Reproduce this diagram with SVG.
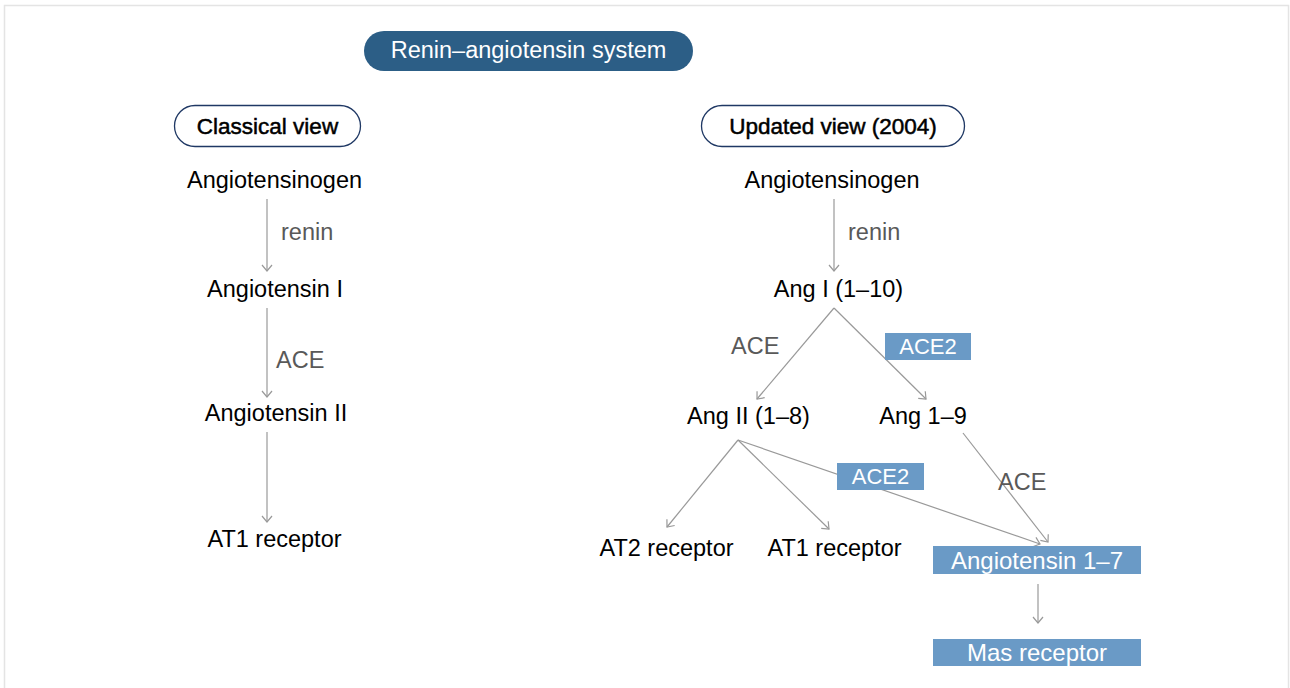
<svg xmlns="http://www.w3.org/2000/svg" width="1290" height="688" viewBox="0 0 1290 688">
<defs>
<marker id="arr" markerUnits="userSpaceOnUse" markerWidth="12" markerHeight="12" viewBox="0 0 12 12" refX="10" refY="6" orient="auto">
<path d="M4,1 L10,6 L4,11" fill="none" stroke="#999" stroke-width="1.2"/>
</marker>
<style>
.t{font-family:"Liberation Sans",Arial,sans-serif;font-size:23.5px;fill:#000;text-anchor:middle}
.g{font-family:"Liberation Sans",Arial,sans-serif;font-size:23.5px;fill:#595959}
.h{font-family:"Liberation Sans",Arial,sans-serif;font-size:22.5px;fill:#000;stroke:#000;stroke-width:0.5;text-anchor:middle}
.w{font-family:"Liberation Sans",Arial,sans-serif;font-size:22px;fill:#fff;text-anchor:middle}
.wl{font-size:24px}
.box{fill:#6a9ac6}
.pill{fill:#fff;stroke:#1f3864;stroke-width:1.3}
.c{stroke:#999;stroke-width:1.2;fill:none;marker-end:url(#arr)}
</style>
</defs>
<rect x="0" y="0" width="1290" height="688" fill="#fff"/>
<rect x="4.5" y="5.5" width="1284" height="690" fill="none" stroke="#e4e4e4" stroke-width="1.5"/>

<g id="title">
<rect x="364" y="31" width="329" height="40" rx="20" fill="#2c5e86"/>
<text x="528.5" y="58" class="w" style="font-size:23.5px">Renin–angiotensin system</text>
</g>
<g id="classical-view">
<rect class="pill" x="174.5" y="105.5" width="186" height="41" rx="20.5"/>
<text x="267.5" y="134" class="h">Classical view</text>
</g>
<g id="updated-view">
<rect class="pill" x="701.5" y="105.5" width="263" height="41" rx="20.5"/>
<text x="833" y="134" class="h">Updated view (2004)</text>
</g>

<g id="connectors">
<line class="c" x1="267" y1="199" x2="267" y2="271"/>
<line class="c" x1="267" y1="308" x2="267" y2="397"/>
<line class="c" x1="267" y1="432" x2="267" y2="522"/>
<line class="c" x1="834" y1="199" x2="834" y2="271"/>
<line class="c" x1="834" y1="308" x2="757" y2="399"/>
<line class="c" x1="834" y1="308" x2="926" y2="399"/>
<line class="c" x1="738" y1="440" x2="667" y2="527"/>
<line class="c" x1="738" y1="440" x2="829" y2="529"/>
<line class="c" x1="738" y1="440" x2="1040" y2="544"/>
<line class="c" x1="963" y1="433" x2="1048" y2="542"/>
<line class="c" x1="1038" y1="584" x2="1038" y2="623"/>
</g>

<g id="l-angiotensinogen"><text x="274.5" y="188" class="t">Angiotensinogen</text></g>
<g id="l-renin"><text x="281" y="240" class="g">renin</text></g>
<g id="l-angiotensin-1"><text x="275" y="297" class="t">Angiotensin I</text></g>
<g id="l-ace"><text x="276" y="368" class="g">ACE</text></g>
<g id="l-angiotensin-2"><text x="276" y="421" class="t">Angiotensin II</text></g>
<g id="l-at1"><text x="274.5" y="547" class="t">AT1 receptor</text></g>

<g id="r-angiotensinogen"><text x="832" y="188" class="t">Angiotensinogen</text></g>
<g id="r-renin"><text x="848" y="240" class="g">renin</text></g>
<g id="r-ang1"><text x="838.5" y="297" class="t">Ang I (1–10)</text></g>
<g id="r-ace-1"><text x="731" y="354" class="g">ACE</text></g>
<g id="r-ace2-1"><rect class="box" x="885" y="333" width="86" height="27"/><text x="928" y="354" class="w">ACE2</text></g>
<g id="r-ang2"><text x="748.5" y="424" class="t">Ang II (1–8)</text></g>
<g id="r-ang19"><text x="923" y="424" class="t">Ang 1–9</text></g>
<g id="r-ace2-2"><rect class="box" x="837" y="463" width="87" height="27"/><text x="880.5" y="484" class="w">ACE2</text></g>
<g id="r-ace-2"><text x="998" y="490" class="g">ACE</text></g>
<g id="r-at2"><text x="666.5" y="556" class="t">AT2 receptor</text></g>
<g id="r-at1"><text x="834.5" y="556" class="t">AT1 receptor</text></g>
<g id="r-ang17"><rect class="box" x="933" y="546" width="208" height="28"/><text x="1037" y="569" class="w wl">Angiotensin 1–7</text></g>
<g id="r-mas"><rect class="box" x="933" y="639" width="208" height="27"/><text x="1037" y="661" class="w wl">Mas receptor</text></g>
</svg>
